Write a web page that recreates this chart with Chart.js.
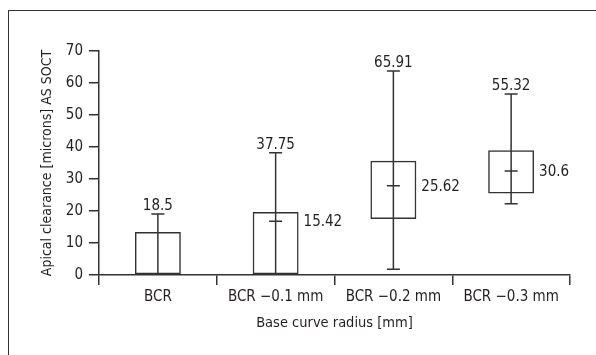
<!DOCTYPE html>
<html>
<head>
<meta charset="utf-8">
<script src="https://cdn.jsdelivr.net/npm/chart.js@4/dist/chart.umd.min.js"></script>
<style>
  html, body { margin: 0; padding: 0; background: #fff; }
  #wrap { position: relative; width: 596px; height: 355px; overflow: hidden; }
  #frame { position: absolute; left: 8px; top: 10px; width: 700px; height: 500px;
           border-left: 1px solid #333; border-top: 1px solid #333; }
  #chart { position: absolute; left: 0; top: 0; }
</style>
</head>
<body>
<div id="wrap">
  <div id="frame"></div>
  <canvas id="chart" width="596" height="355"></canvas>
</div>
<script>
// values
const categories = ['BCR', 'BCR \u22120.1 mm', 'BCR \u22120.2 mm', 'BCR \u22120.3 mm'];
const whiskerMin = [0, 0, 1.8, 22.3];
const boxLow = [0, 0, 17.5, 25.5];
const boxHigh = [13.4, 19.7, 35.7, 39];
const whiskerMax = [19.1, 38.2, 63.75, 56.6];
const meanValues = [null, 16.8, 27.9, 32.5];
const topLabels = ['18.5', '37.75', '65.91', '55.32'];
const sideLabels = [null, '15.42', '25.62', '30.6'];

const FONT = '"DejaVu Sans Condensed", "Liberation Sans Narrow", sans-serif';
const INK = '#231f20';
const LINE = '#333';

// whiskers, mean marks and the number labels
const boxExtras = {
  id: 'boxExtras',
  afterDatasetsDraw(chart) {
    const ctx = chart.ctx;
    const x = chart.scales.x, y = chart.scales.y;
    const bars = chart.getDatasetMeta(0).data;
    ctx.save();
    ctx.strokeStyle = LINE;
    ctx.lineWidth = 1.5;
    ctx.fillStyle = INK;
    ctx.font = '15px ' + FONT;
    for (let i = 0; i < categories.length; i++) {
      const cx = x.getPixelForValue(i);
      const yTop = y.getPixelForValue(whiskerMax[i]);
      const yBot = y.getPixelForValue(whiskerMin[i]);
      ctx.beginPath();
      ctx.moveTo(cx, yBot);
      ctx.lineTo(cx, yTop);
      ctx.moveTo(cx - 6.5, yTop);
      ctx.lineTo(cx + 6.5, yTop);
      if (whiskerMin[i] > 0) {
        ctx.moveTo(cx - 6.5, yBot);
        ctx.lineTo(cx + 6.5, yBot);
      }
      if (meanValues[i] !== null) {
        const ym = y.getPixelForValue(meanValues[i]);
        ctx.moveTo(cx - 6.5, ym);
        ctx.lineTo(cx + 6.5, ym);
      }
      ctx.stroke();

      ctx.textAlign = 'center';
      ctx.textBaseline = 'alphabetic';
      ctx.fillText(topLabels[i], cx, yTop - 4);

      if (sideLabels[i] !== null) {
        const bar = bars[i];
        ctx.textAlign = 'left';
        ctx.textBaseline = 'middle';
        ctx.fillText(sideLabels[i], bar.x + bar.width / 2 + 5, y.getPixelForValue(meanValues[i]) + 1);
      }
    }
    ctx.restore();
  }
};

new Chart(document.getElementById('chart'), {
  type: 'bar',
  data: {
    labels: categories,
    datasets: [{
      data: boxLow.map((v, i) => [v, boxHigh[i]]),
      backgroundColor: 'rgba(255,255,255,0)',
      borderColor: LINE,
      borderWidth: 1.5,
      borderSkipped: false,
      categoryPercentage: 1,
      barPercentage: 0.39
    }]
  },
  options: {
    responsive: false,
    animation: false,
    layout: { padding: { left: 0, top: 51, right: 26, bottom: 0 } },
    plugins: { legend: { display: false }, tooltip: { enabled: false } },
    scales: {
      x: {
        afterFit: s => { s.height = 80; },
        grid: { drawOnChartArea: false, tickLength: 10, color: LINE, lineWidth: 1.5, offset: true },
        border: { color: LINE, width: 1.5 },
        ticks: { color: INK, padding: 3, font: { family: FONT, size: 15 } },
        title: { display: true, text: 'Base curve radius [mm]', color: INK,
                 font: { family: FONT, size: 14.5 }, padding: { top: 0, bottom: 23 } }
      },
      y: {
        min: 0, max: 70,
        afterFit: s => { s.width = 99; },
        grid: { drawOnChartArea: false, tickLength: 10, color: LINE, lineWidth: 1.5 },
        border: { color: LINE, width: 1.5 },
        ticks: { stepSize: 10, color: INK, padding: 6, font: { family: FONT, size: 15 } },
        title: { display: true, text: 'Apical clearance [microns] AS SOCT', color: INK,
                 font: { family: FONT, size: 14 }, padding: { top: 38.5, bottom: 0 } }
      }
    }
  },
  plugins: [boxExtras]
});
</script>
</body>
</html>
